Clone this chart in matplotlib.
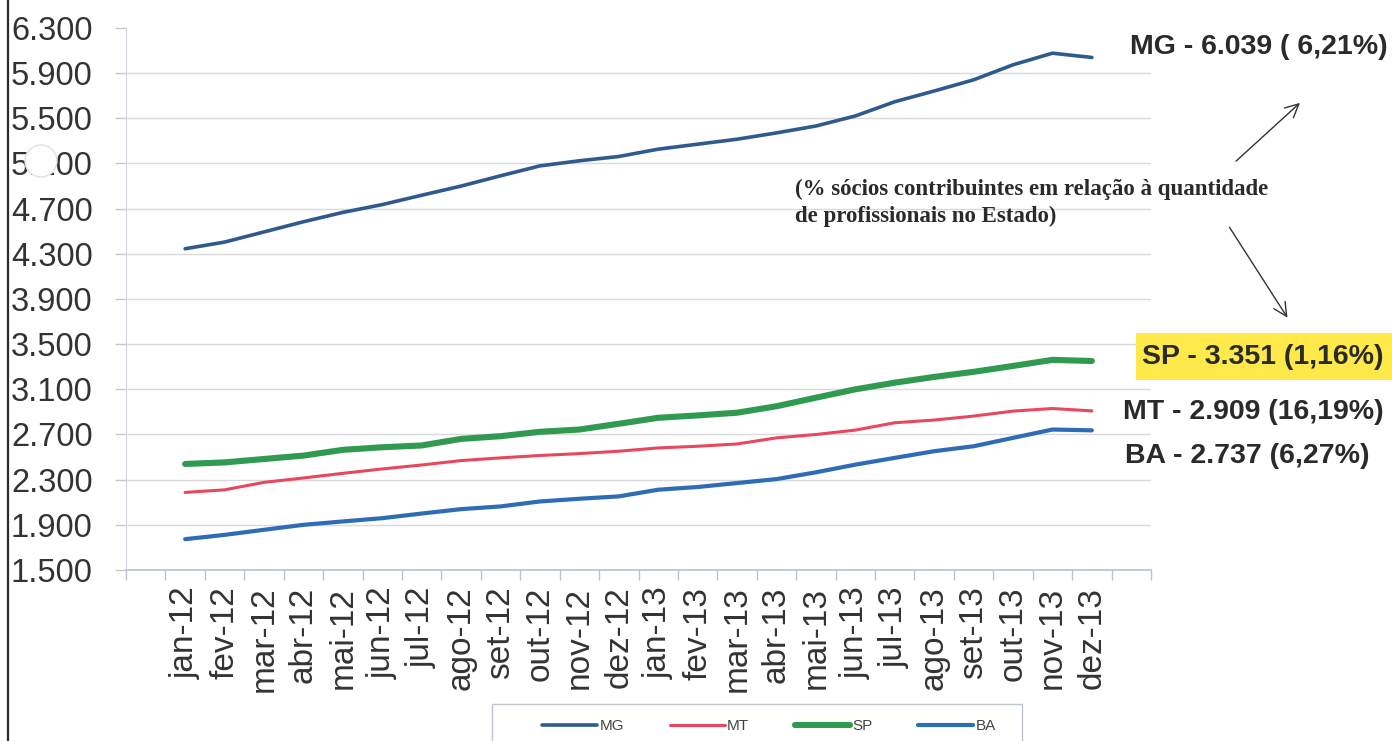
import matplotlib
matplotlib.use("Agg")
import matplotlib.pyplot as plt
from matplotlib.patches import Circle, Rectangle, FancyArrowPatch
from matplotlib.lines import Line2D
from matplotlib.ticker import FuncFormatter, FixedLocator
from matplotlib.transforms import IdentityTransform

# ---------------- data ----------------
months = ["jan-12", "fev-12", "mar-12", "abr-12", "mai-12", "jun-12", "jul-12",
          "ago-12", "set-12", "out-12", "nov-12", "dez-12", "jan-13", "fev-13",
          "mar-13", "abr-13", "mai-13", "jun-13", "jul-13", "ago-13", "set-13",
          "out-13", "nov-13", "dez-13"]
mg = [4345, 4404, 4494, 4584, 4667, 4736, 4819, 4900, 4991, 5079, 5124, 5162,
      5227, 5271, 5315, 5371, 5432, 5521, 5647, 5742, 5841, 5974, 6077, 6039]
mt = [2187, 2210, 2276, 2315, 2356, 2395, 2430, 2469, 2493, 2514, 2531, 2552,
      2581, 2596, 2616, 2670, 2700, 2739, 2804, 2828, 2863, 2907, 2930, 2909]
sp = [2439, 2453, 2483, 2513, 2564, 2587, 2603, 2661, 2685, 2724, 2744, 2795,
      2848, 2869, 2893, 2950, 3026, 3100, 3159, 3210, 3255, 3307, 3361, 3351]
ba = [1773, 1811, 1856, 1900, 1930, 1959, 2000, 2039, 2063, 2107, 2131, 2152,
      2211, 2235, 2270, 2305, 2365, 2433, 2493, 2552, 2596, 2670, 2744, 2737]
series_names = ["MG", "MT", "SP", "BA"]
yticks = [1500, 1900, 2300, 2700, 3100, 3500, 3900, 4300, 4700, 5100, 5500, 5900, 6300]
labels_right = ["MG - 6.039 ( 6,21%)", "SP - 3.351 (1,16%)",
                "MT - 2.909 (16,19%)", "BA - 2.737 (6,27%)"]
note_lines = ["(% sócios contribuintes em relação à quantidade",
              "de profissionais no Estado)"]

# ---------------- figure ----------------
W, H = 1392, 741
fig = plt.figure(figsize=(W / 100, H / 100), dpi=100)
fig.patch.set_facecolor("white")

def fx(px):
    return px / W

def fy(py):
    return 1 - py / H

ax = fig.add_axes([fx(126), fy(570), fx(1151) - fx(126), (570 - 28) / H])

x = list(range(1, len(months) + 1))
colors = ["#2E5A8E", "#E8475E", "#2F9A50", "#2E6DB6"]
widths = [2.6, 2.2, 4.4, 3.0]
for vals, name, c, lw in zip([mg, mt, sp, ba], series_names, colors, widths):
    ax.plot(x, vals, color=c, lw=lw, label=name, solid_capstyle="round",
            solid_joinstyle="round")

ax.set_xlim(-0.5, len(months) + 1.5)
ax.set_ylim(1500, 6300)

# y axis
ax.set_yticks(yticks)
ax.yaxis.set_major_formatter(FuncFormatter(lambda v, p: f"{v:,.0f}".replace(",", ".")))
ax.tick_params(axis="y", length=8, width=1, color="#C8C8C8", pad=16,
               labelsize=23.5, labelcolor="#333333")
for lab in ax.get_yticklabels():
    lab.set_family("Liberation Sans")
ax.yaxis.grid(True, color="#DADADA", lw=1)
ax.set_axisbelow(True)
gl = ax.get_ygridlines()
gl[-1].set_visible(False)

# x axis: labels at category centers, tick marks at boundaries
ax.set_xticks(x)
ax.set_xticklabels(months, rotation=90, fontsize=24, color="#333333",
                   family="Liberation Sans")
ax.tick_params(axis="x", which="major", length=0, pad=12)
bounds = [i + 0.5 for i in range(-1, len(months) + 2)]
ax.xaxis.set_minor_locator(FixedLocator(bounds))
ax.tick_params(axis="x", which="minor", length=7, width=1, color="#B8C2D2")

for s in ["top", "right"]:
    ax.spines[s].set_visible(False)
ax.spines["left"].set_color("#D2D6DE")
ax.spines["bottom"].set_color("#B8C2D2")
ax.spines["bottom"].set_linewidth(1.2)

# legend (frame drawn separately so the box can be wider than its entries)
fig.add_artist(Rectangle((fx(492), fy(745)), fx(1022) - fx(492), (745 - 704) / H,
                         transform=fig.transFigure, facecolor="white",
                         edgecolor="#BFC4CC", lw=1, zorder=1))
leg = fig.legend(loc="upper left", bbox_to_anchor=(fx(530), fy(707)),
                 ncol=4, frameon=False, fontsize=11,
                 handlelength=3.6, handletextpad=0.15, columnspacing=3.0,
                 borderpad=0.3, prop={"family": "Liberation Sans", "size": 11})
leg.set_zorder(2)
for t in leg.get_texts():
    t.set_color("#444444")

# right-hand annotations
fig.add_artist(Rectangle((fx(1136), fy(380)), fx(1392) - fx(1136), (380 - 333) / H,
                         transform=fig.transFigure, facecolor="#FFE94A",
                         edgecolor="none", zorder=1))
ann_pos = [(1130, 47), (1142, 357), (1123, 412), (1125, 456)]
for txt, (px, py) in zip(labels_right, ann_pos):
    fig.text(fx(px), fy(py), txt, ha="left", va="center", fontsize=20.5,
             fontweight="bold", family="Liberation Sans", color="#2A2A2A", zorder=2)

fig.text(fx(795), fy(189), note_lines[0], ha="left", va="center", fontsize=16.5,
         fontweight="bold", family="Liberation Serif", color="#2A2A2A")
fig.text(fx(795), fy(216), note_lines[1], ha="left", va="center", fontsize=16.5,
         fontweight="bold", family="Liberation Serif", color="#2A2A2A")

# arrows
for (x0, y0), (x1, y1) in [((1234, 163), (1302, 101)), ((1228, 225), (1289, 320))]:
    fig.add_artist(FancyArrowPatch((fx(x0), fy(y0)), (fx(x1), fy(y1)),
                                   transform=fig.transFigure, arrowstyle="->",
                                   mutation_scale=24, lw=1.0, color="#333333"))

# scan artifacts: left border line and small circle over a tick label
fig.add_artist(Line2D([fx(8), fx(8)], [0, 1], transform=fig.transFigure,
                      color="#2A2A2A", lw=1.6))
fig.add_artist(Circle((41, H - 161), 16, transform=IdentityTransform(),
                      facecolor="white", edgecolor="#E2E2E2", lw=1, zorder=10))

fig.savefig("out.png", dpi=100, facecolor="white")
